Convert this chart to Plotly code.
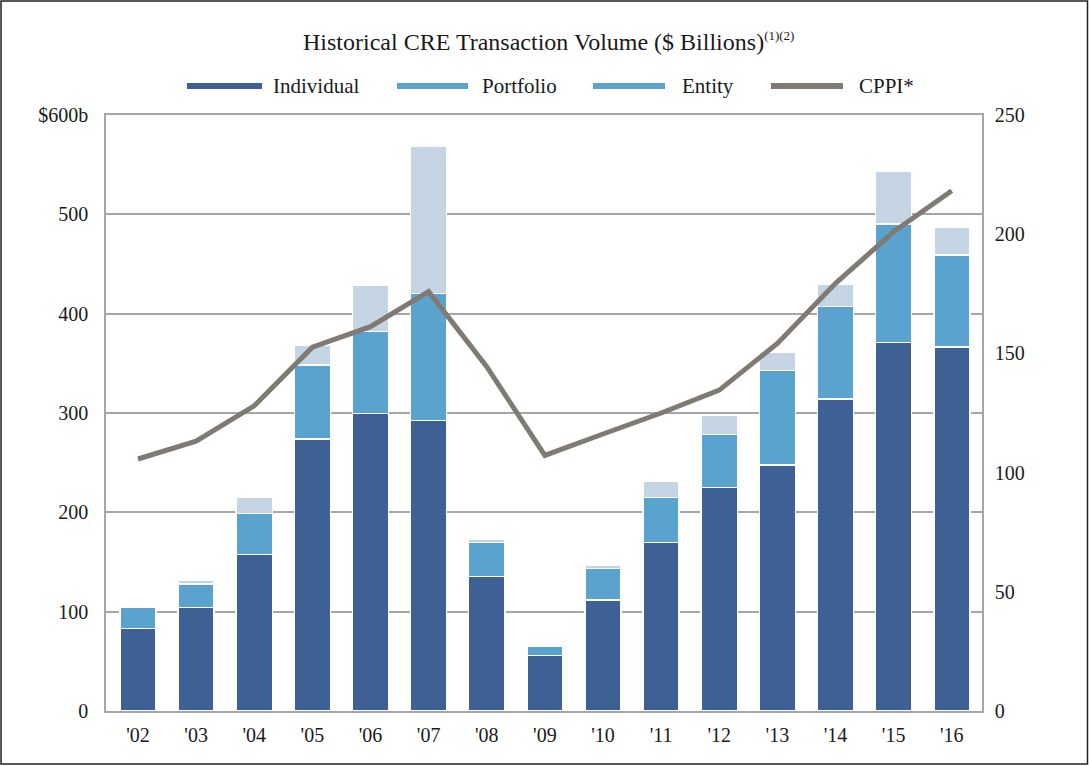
import plotly.graph_objects as go

years = ["'02", "'03", "'04", "'05", "'06", "'07", "'08", "'09", "'10", "'11", "'12", "'13", "'14", "'15", "'16"]
# cumulative tops ($ billions)
individual = [83.2, 104.0, 157.7, 273.8, 299.7, 292.3, 135.2, 55.7, 111.7, 169.8, 224.8, 247.7, 314.1, 371.2, 366.2]
portfolio_top = [104.0, 127.9, 199.0, 348.3, 381.9, 420.5, 169.5, 64.7, 143.6, 214.8, 278.5, 342.6, 407.0, 490.3, 459.1]
entity_top = [104.0, 131.2, 214.8, 368.5, 428.2, 568.1, 173.2, 64.7, 147.0, 231.5, 297.3, 361.1, 429.9, 543.6, 486.6]
cppi = [105.7, 113.2, 128.0, 152.6, 161.2, 175.9, 144.4, 107.2, 116.2, 125.0, 134.6, 154.2, 179.4, 201.0, 218.2]

portfolio = [p - i for p, i in zip(portfolio_top, individual)]
entity = [e - p for e, p in zip(entity_top, portfolio_top)]

left_ticks = [0, 100, 200, 300, 400, 500, 600]
left_ticktext = ["0", "100", "200", "300", "400", "500", "$600b"]
right_ticks = [0, 50, 100, 150, 200, 250]

legend_names = ["Individual", "Portfolio", "Entity", "CPPI*"]
legend_colors = ["#3f6094", "#5ba3cf", "#5ba3cf", "#7f7b74"]

C_IND = "#3f6094"
C_PORT = "#5ba3cf"
C_ENT = "#c5d5e4"
C_LINE = "#7f7b74"
GRID = "#a6a6a6"
TXT = "#1a1a1a"
FONT = "Liberation Serif, Times New Roman, serif"

W, H = 1089, 766
L, R, T, B = 106, 982, 115, 711

def px(x):
    return (x - L) / (R - L)

def py(y):
    return (B - y) / (B - T)

fig = go.Figure()
bar_line = dict(color="white", width=1.5)
fig.add_trace(go.Bar(x=years, y=individual, name="Individual", marker=dict(color=C_IND, line=bar_line), showlegend=False))
fig.add_trace(go.Bar(x=years, y=portfolio, name="Portfolio", marker=dict(color=C_PORT, line=bar_line), showlegend=False))
fig.add_trace(go.Bar(x=years, y=entity, name="Entity", marker=dict(color=C_ENT, line=bar_line), showlegend=False))
fig.add_trace(go.Scatter(x=years, y=cppi, name="CPPI*", mode="lines", yaxis="y2",
                         line=dict(color=C_LINE, width=5), showlegend=False))

shapes = []
annotations = []
# manual legend
leg_y = 86
sym = [(187, 262), (397, 468), (593, 665), (771, 843)]
txt_x = [271, 480, 680, 857]
for (a, b), tx, name, col in zip(sym, txt_x, legend_names, legend_colors):
    shapes.append(dict(type="line", xref="paper", yref="paper", x0=px(a), x1=px(b), y0=py(leg_y), y1=py(leg_y),
                       line=dict(color=col, width=6)))
    annotations.append(dict(text=name, xref="paper", yref="paper", x=px(tx), y=py(leg_y), xanchor="left",
                            yanchor="middle", showarrow=False, font=dict(family=FONT, size=21, color=TXT)))

# outer border
shapes.append(dict(type="rect", xref="paper", yref="paper", x0=px(1), x1=px(1087.5), y0=py(764), y1=py(1),
                   line=dict(color="#222", width=1.5), fillcolor="rgba(0,0,0,0)", layer="above"))

annotations.append(dict(text="Historical CRE Transaction Volume ($ Billions)<sup><span style='font-size:13px'>(1)(2)</span></sup>",
                        xref="paper", yref="paper",
                        x=px(548), y=py(42), xanchor="center", yanchor="middle", showarrow=False,
                        font=dict(family=FONT, size=24, color=TXT)))

fig.update_layout(
    width=W, height=H,
    margin=dict(l=L, r=W - R, t=T, b=H - B, pad=0),
    paper_bgcolor="white", plot_bgcolor="white",
    barmode="stack", bargap=0.38,
    font=dict(family=FONT, size=20, color=TXT),
    xaxis=dict(type="category", range=[-0.55, 14.52], showgrid=False, showline=True, linecolor=GRID, linewidth=1.5,
               mirror=True, ticks="", ticklabelstandoff=5, tickfont=dict(family=FONT, size=20, color=TXT)),
    yaxis=dict(range=[0, 600], tickvals=left_ticks, ticktext=left_ticktext, showgrid=True, gridcolor=GRID, gridwidth=1.5,
               showline=True, linecolor=GRID, linewidth=1.5, ticks="", ticklabelstandoff=12, zeroline=False,
               tickfont=dict(family=FONT, size=20, color=TXT)),
    yaxis2=dict(range=[0, 250], tickvals=right_ticks, overlaying="y", side="right", showgrid=False, showline=True,
                linecolor=GRID, linewidth=1.5, ticks="", ticklabelstandoff=7, zeroline=False,
                tickfont=dict(family=FONT, size=20, color=TXT)),
    shapes=shapes, annotations=annotations,
)

fig.write_html("out.html", config={"displayModeBar": False},
               post_script="document.body.style.margin='0px';document.body.style.padding='0px';")
